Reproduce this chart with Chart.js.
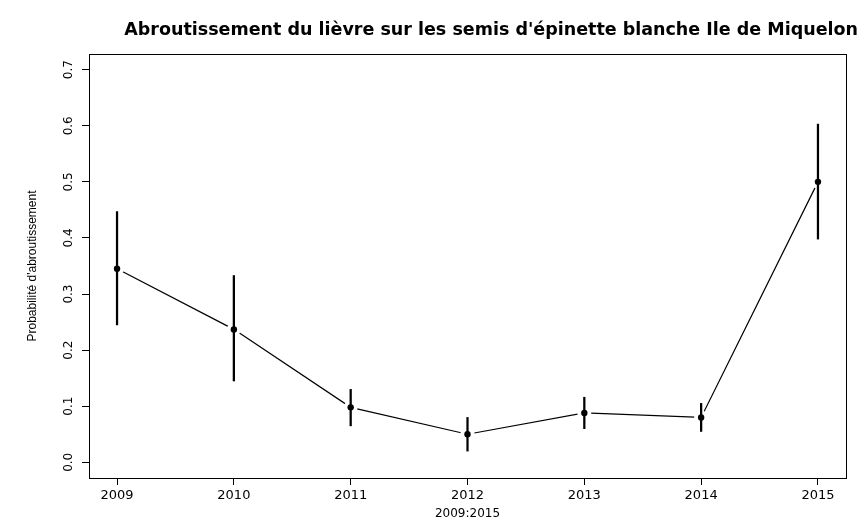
<!DOCTYPE html>
<html>
<head>
<meta charset="utf-8">
<script src="https://cdn.jsdelivr.net/npm/chart.js@4"></script>
<style>
	html, body { margin: 0; padding: 0; background: #fff; }
	#wrap { width: 860px; height: 518px; position: relative; }
</style>
</head>
<body>
<div id="wrap"><canvas id="chart"></canvas></div>
<script>
// valeurs
const years = [2009, 2010, 2011, 2012, 2013, 2014, 2015];
const probs = [0.345, 0.237, 0.098, 0.050, 0.088, 0.080, 0.500];
const lower = [0.245, 0.145, 0.065, 0.020, 0.060, 0.055, 0.398];
const upper = [0.447, 0.333, 0.130, 0.080, 0.116, 0.105, 0.603];
const yTicks = [0.0, 0.1, 0.2, 0.3, 0.4, 0.5, 0.6, 0.7];
const yTickLabels = ["0.0", "0.1", "0.2", "0.3", "0.4", "0.5", "0.6", "0.7"];

const FONT = '"DejaVu Sans", Verdana, sans-serif';
const FONT2 = '"Liberation Sans", Arial, sans-serif';

const points = years.map((x, i) => ({ x: x, y: probs[i] }));
const bars = years.map((x, i) => ({ x: x, y: [lower[i], upper[i]] }));

// etiquettes de l'axe y tournees (comme R, las = 0)
const rotatedYLabels = {
	id: "rotatedYLabels",
	afterDraw(chart) {
		const ctx = chart.ctx;
		const y = chart.scales.y;
		ctx.save();
		ctx.font = "12px " + FONT;
		ctx.fillStyle = "#000";
		ctx.textAlign = "center";
		ctx.textBaseline = "middle";
		yTicks.forEach((v, i) => {
			const py = y.getPixelForValue(v);
			ctx.save();
			ctx.translate(y.right - 20, py);
			ctx.rotate(-Math.PI / 2);
			ctx.fillText(yTickLabels[i], 0, 0);
			ctx.restore();
		});
		ctx.restore();
	},
};

const axisGrid = {
	display: true,
	offset: false,
	drawOnChartArea: false,
	drawTicks: true,
	tickLength: 7,
	tickColor: "#000",
	tickWidth: 1,
};

new Chart(document.getElementById("chart"), {
	data: {
		datasets: [
			{
				type: "line",
				data: points,
				borderColor: "#000",
				borderWidth: 1.2,
				pointRadius: 0,
				order: 4,
			},
			{
				// petits trous autour des points (type = "b")
				type: "line",
				data: points,
				showLine: false,
				pointRadius: 7,
				pointBackgroundColor: "#fff",
				pointBorderWidth: 0,
				order: 3,
			},
			{
				type: "bar",
				data: bars,
				backgroundColor: "#000",
				borderWidth: 0,
				barThickness: 1.6,
				order: 2,
			},
			{
				type: "line",
				data: points,
				showLine: false,
				pointRadius: 3.2,
				pointBackgroundColor: "#000",
				pointBorderWidth: 0,
				order: 1,
			},
		],
	},
	options: {
		responsive: true,
		maintainAspectRatio: false,
		animation: false,
		layout: { padding: { left: 0, right: 2, top: 0, bottom: 0 } },
		plugins: {
			legend: { display: false },
			tooltip: { enabled: false },
			title: {
				display: true,
				text: "Abroutissement du lièvre sur les semis d'épinette blanche Ile de Miquelon",
				align: "end",
				color: "#000",
				font: { family: FONT, size: 17.5, weight: "bold" },
				padding: { top: 20, bottom: 0 },
			},
		},
		scales: {
			x: {
				type: "linear",
				position: "bottom",
				offset: false,
				min: 2008.76,
				max: 2015.24,
				afterBuildTicks: (scale) => {
					scale.ticks = years.map((v) => ({ value: v }));
				},
				afterFit: (scale) => {
					scale.height = 40;
				},
				ticks: {
					color: "#000",
					font: { family: FONT, size: 13 },
					padding: 3,
					maxRotation: 0,
					callback: (v) => String(v),
				},
				grid: axisGrid,
				border: { display: true, color: "#000", width: 1 },
				title: {
					display: true,
					text: "2009:2015",
					color: "#000",
					font: { family: FONT, size: 12 },
					padding: { top: 0, bottom: -3 },
				},
			},
			y: {
				type: "linear",
				position: "left",
				min: -0.028,
				max: 0.728,
				afterBuildTicks: (scale) => {
					scale.ticks = yTicks.map((v) => ({ value: v }));
				},
				afterFit: (scale) => {
					scale.width = 89;
				},
				ticks: { display: false },
				grid: axisGrid,
				border: { display: true, color: "#000", width: 1 },
				title: {
					display: true,
					text: "Probabilité d'abroutissement",
					color: "#000",
					font: { family: FONT2, size: 12 },
					padding: { top: 25, bottom: 0 },
				},
			},
			x2: {
				type: "linear",
				position: "top",
				min: 0,
				max: 1,
				afterFit: (scale) => {
					scale.height = 54 - 20 - 21;
				},
				ticks: { display: false },
				grid: { display: false },
				border: { display: true, color: "#000", width: 1 },
			},
			y2: {
				type: "linear",
				position: "right",
				min: 0,
				max: 1,
				afterFit: (scale) => {
					scale.width = 12;
				},
				ticks: { display: false },
				grid: { display: false },
				border: { display: true, color: "#000", width: 1 },
			},
		},
	},
	plugins: [rotatedYLabels],
});
</script>
</body>
</html>
